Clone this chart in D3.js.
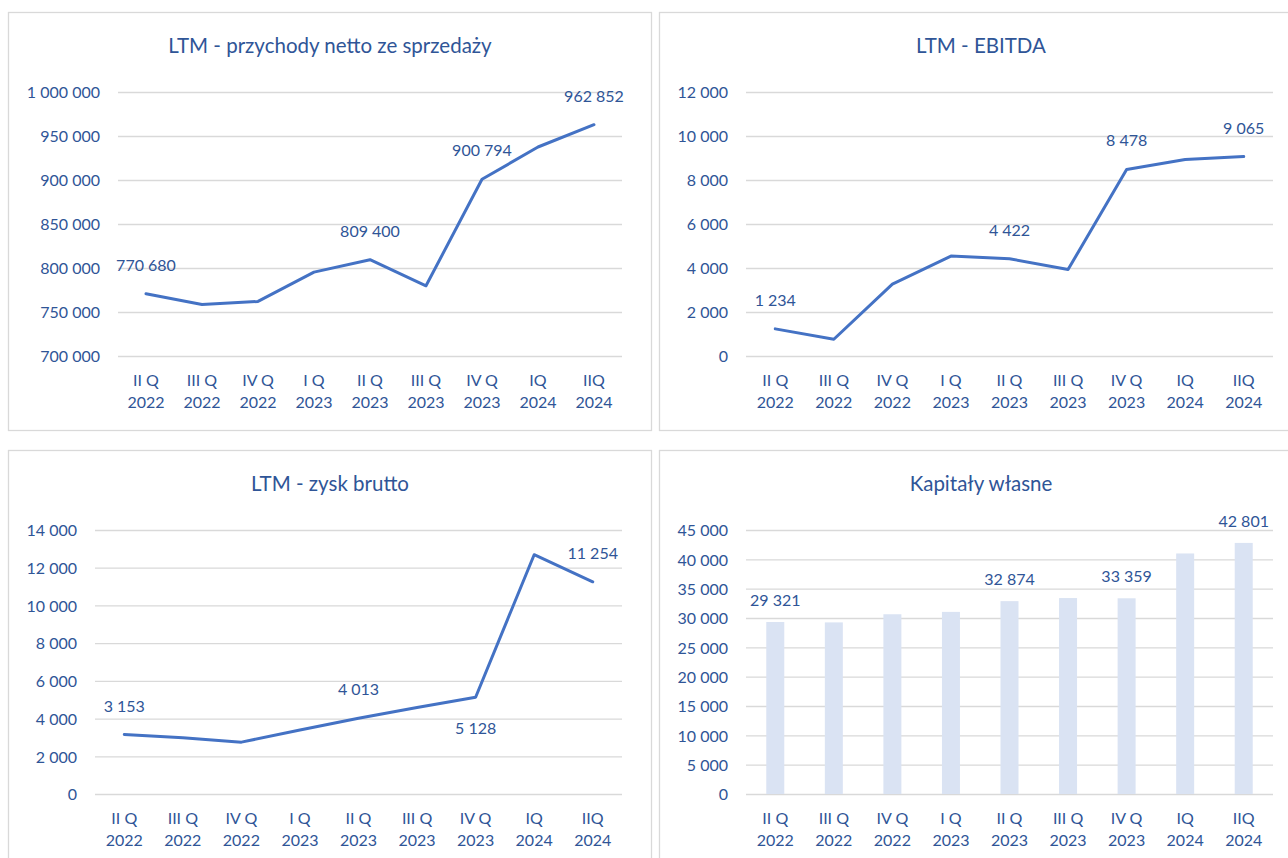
<!DOCTYPE html>
<html lang="pl">
<head>
<meta charset="utf-8">
<title>Wyniki LTM</title>
<script src="https://cdn.jsdelivr.net/npm/d3@7"></script>
<style>
  html, body { margin: 0; padding: 0; background: #fff; }
  svg { display: block; font-family: Lato, "Open Sans", sans-serif; }
</style>
</head>
<body>
<svg id="chart" width="1288" height="858"></svg>
<script>
// categories (two-line labels)
const quarters = ["II Q", "III Q", "IV Q", "I Q", "II Q", "III Q", "IV Q", "IQ", "IIQ"];
const years = ["2022", "2022", "2022", "2023", "2023", "2023", "2023", "2024", "2024"];

// series values
const revenue = [770680, 758600, 762000, 795300, 809400, 779800, 900794, 937500, 962852];
const ebitda = [1234, 760, 3270, 4540, 4422, 3930, 8478, 8930, 9065];
const grossProfit = [3153, 2980, 2750, 3390, 4013, 4590, 5128, 12690, 11254];
const equity = [29321, 29250, 30640, 31040, 32874, 33400, 33359, 41000, 42801];

// y tick values
const revenueTicks = [700000, 750000, 800000, 850000, 900000, 950000, 1000000];
const ebitdaTicks = [0, 2000, 4000, 6000, 8000, 10000, 12000];
const profitTicks = [0, 2000, 4000, 6000, 8000, 10000, 12000, 14000];
const equityTicks = [0, 5000, 10000, 15000, 20000, 25000, 30000, 35000, 40000, 45000];

// which points carry a data label
const labelled = [0, 4, 6, 8];
const profitBelow = [6];

const textColor = "#2F5597";
const lineColor = "#4472C4";
const barColor = "#DAE3F3";
const gridColor = "#D9D9D9";

const fmt = d3.formatLocale({
  decimal: ",", thousands: "\u00a0", grouping: [3], currency: ["", " zł"]
}).format(",d");

const svg = d3.select("#chart");

const panelW = 644, panelH = 419;

function drawPanel(opts) {
  const g = svg.append("g").attr("transform", `translate(${opts.x},${opts.y})`);

  g.append("rect")
    .attr("x", 0.5).attr("y", 0.5)
    .attr("width", panelW - 1).attr("height", panelH - 1)
    .attr("fill", "#fff")
    .attr("stroke", gridColor)
    .attr("stroke-width", 1.3);

  g.append("text")
    .attr("x", panelW / 2)
    .attr("y", 41)
    .attr("text-anchor", "middle")
    .attr("fill", textColor)
    .style("font-size", "20.5px")
    .text(opts.title);

  const top = 80, bottom = 344, right = 614;
  const x = d3.scaleBand()
    .domain(d3.range(quarters.length))
    .range([opts.left, right]);
  const y = d3.scaleLinear()
    .domain([opts.ticks[0], opts.ticks[opts.ticks.length - 1]])
    .range([bottom, top]);

  // gridlines + y labels
  const yAxis = g.append("g")
    .attr("transform", `translate(${opts.left},0)`)
    .call(d3.axisLeft(y)
      .tickValues(opts.ticks)
      .tickSize(-(right - opts.left))
      .tickPadding(18)
      .tickFormat(fmt));
  yAxis.select(".domain").remove();
  yAxis.selectAll(".tick line")
    .attr("stroke", gridColor)
    .attr("stroke-width", 1.3);
  yAxis.selectAll(".tick text")
    .attr("fill", textColor)
    .attr("dy", "0.36em")
    .style("font-family", "Lato, sans-serif")
    .style("font-size", "16px");

  // category labels
  const cat = g.append("g");
  quarters.forEach((q, i) => {
    const t = cat.append("text")
      .attr("text-anchor", "middle")
      .attr("fill", textColor)
      .style("font-size", "16px");
    const cx = x(i) + x.bandwidth() / 2;
    t.append("tspan").attr("x", cx).attr("y", bottom + 30).text(q);
    t.append("tspan").attr("x", cx).attr("y", bottom + 52).text(years[i]);
  });

  const values = opts.values;
  const cx = i => x(i) + x.bandwidth() / 2;

  if (opts.type === "bar") {
    const bw = 18;
    g.append("g").selectAll("rect")
      .data(values)
      .join("rect")
      .attr("x", (d, i) => cx(i) - bw / 2)
      .attr("y", d => y(d))
      .attr("width", bw)
      .attr("height", d => y(0) - y(d))
      .attr("fill", barColor);

    g.append("g").selectAll("text")
      .data(labelled)
      .join("text")
      .attr("x", i => cx(i))
      .attr("y", i => y(values[i]) - 16)
      .attr("text-anchor", "middle")
      .attr("fill", textColor)
      .style("font-size", "16px")
      .text(i => fmt(values[i]));
  } else {
    const line = d3.line()
      .x((d, i) => cx(i))
      .y(d => y(d));
    g.append("path")
      .datum(values)
      .attr("d", line)
      .attr("fill", "none")
      .attr("stroke", lineColor)
      .attr("stroke-width", 3)
      .attr("stroke-linejoin", "round")
      .attr("stroke-linecap", "round");

    const below = opts.below || [];
    g.append("g").selectAll("text")
      .data(labelled)
      .join("text")
      .attr("x", i => cx(i))
      .attr("y", i => below.includes(i) ? y(values[i]) + 37 : y(values[i]) - 23)
      .attr("text-anchor", "middle")
      .attr("fill", textColor)
      .style("font-size", "16px")
      .text(i => fmt(values[i]));
  }
}

drawPanel({ x: 8, y: 12, left: 110, title: "LTM - przychody netto ze sprzedaży",
  values: revenue, ticks: revenueTicks, type: "line" });
drawPanel({ x: 659, y: 12, left: 87, title: "LTM - EBITDA",
  values: ebitda, ticks: ebitdaTicks, type: "line" });
drawPanel({ x: 8, y: 450, left: 87, title: "LTM - zysk brutto",
  values: grossProfit, ticks: profitTicks, type: "line", below: profitBelow });
drawPanel({ x: 659, y: 450, left: 87, title: "Kapitały własne",
  values: equity, ticks: equityTicks, type: "bar" });
</script>
</body>
</html>
